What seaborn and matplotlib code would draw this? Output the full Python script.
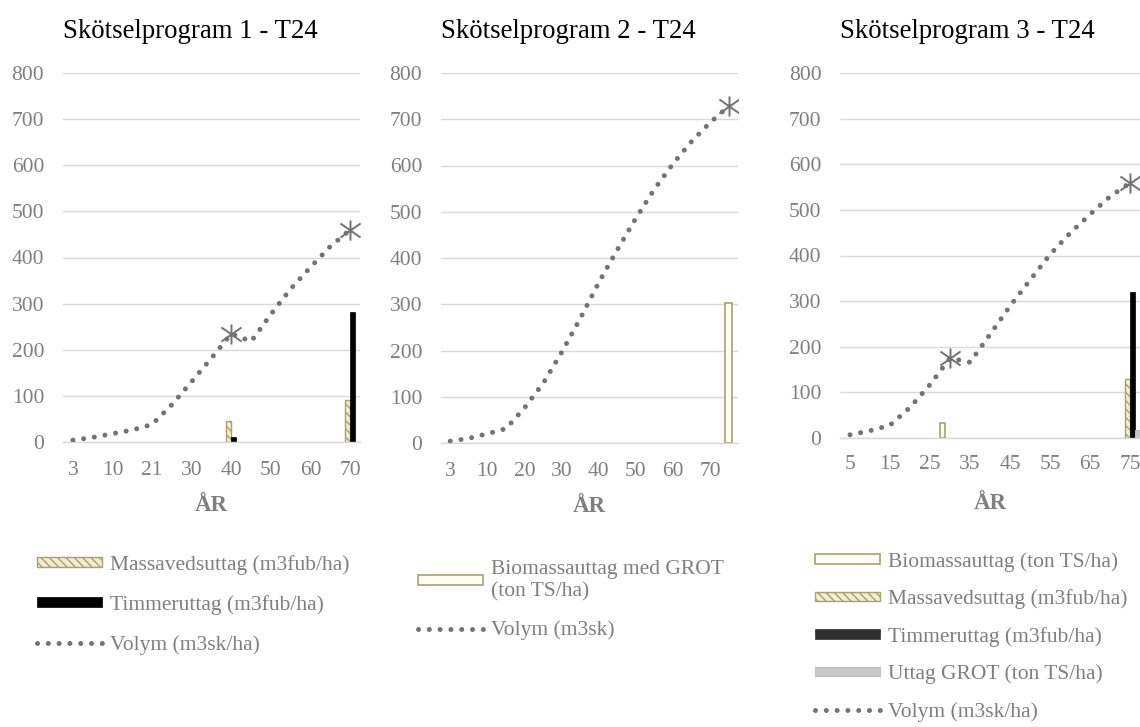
import numpy as np
import pandas as pd
import matplotlib
matplotlib.use("Agg")
import matplotlib.pyplot as plt
import seaborn as sns
from matplotlib.patches import Patch
from matplotlib.lines import Line2D
from matplotlib.path import Path

# ---------------- data ----------------
titles = ["Skötselprogram 1 - T24", "Skötselprogram 2 - T24", "Skötselprogram 3 - T24"]

years1 = [3, 5, 10, 15, 21, 25, 30, 35, 40, 45, 50, 55, 60, 65, 70]
vol1 = [4, 10, 18, 26, 38, 81, 131, 182, 235, 218, 277, 332, 379, 424, 460]
star1_idx = [8, 14]
star1_val = [235, 460]
massa1 = [0, 0, 0, 0, 0, 0, 0, 0, 45, 0, 0, 0, 0, 0, 90]
timmer1 = [0, 0, 0, 0, 0, 0, 0, 0, 10, 0, 0, 0, 0, 0, 282]

years2 = [3, 5, 10, 15, 20, 25, 30, 35, 40, 45, 50, 55, 60, 65, 70, 75]
vol2 = [4, 10, 20, 31, 76, 129, 196, 269, 347, 418, 486, 549, 604, 652, 693, 728]
star2_idx = [15]
star2_val = [728]
biogrot2 = [0, 0, 0, 0, 0, 0, 0, 0, 0, 0, 0, 0, 0, 0, 0, 302]

years3 = [5, 10, 15, 20, 25, 30, 35, 40, 45, 50, 55, 60, 65, 70, 75]
vol3 = [7, 16, 28, 67, 117, 175, 166, 227, 289, 346, 402, 449, 490, 529, 559]
star3_idx = [5, 14]
star3_val = [175, 559]
bio3 = [0, 0, 0, 0, 0, 32, 0, 0, 0, 0, 0, 0, 0, 0, 0]
massa3 = [0, 0, 0, 0, 0, 0, 0, 0, 0, 0, 0, 0, 0, 0, 130]
timmer3 = [0, 0, 0, 0, 0, 0, 0, 0, 0, 0, 0, 0, 0, 0, 320]
grot3 = [0, 0, 0, 0, 0, 0, 0, 0, 0, 0, 0, 0, 0, 0, 18]

yticks = [0, 100, 200, 300, 400, 500, 600, 700, 800]

# ---------------- styles ----------------
sns.set_style("white")
plt.rcParams["font.family"] = ["Liberation Serif", "DejaVu Serif"]
plt.rcParams["hatch.linewidth"] = 1.0

GRAY_TXT = "#7f7f7f"
LINE_C = "#737373"
GRID_C = "#d9d9d9"
OLIVE = "#a8a16c"
STYLES = {
    "massa": dict(facecolor="#f3eecf", edgecolor=OLIVE, hatch="\\\\\\\\", lw=1.0),
    "timmer": dict(facecolor="#000000", edgecolor="#000000", hatch=None, lw=0.5),
    "timmer3": dict(facecolor="#000000", edgecolor="#000000", hatch=None, lw=0.5),
    "bio": dict(facecolor="#fdfcf2", edgecolor=OLIVE, hatch=None, lw=1.2),
    "grot": dict(facecolor="#c8c8c8", edgecolor="#bdbdbd", hatch=None, lw=0.8),
}
LEG_COL = {"timmer3": "#303030"}

star_marker = Path([(0, -1), (0, 1), (-1, -0.7), (1, 0.7), (-1, 0.7), (1, -0.7)],
                   [Path.MOVETO, Path.LINETO, Path.MOVETO, Path.LINETO, Path.MOVETO, Path.LINETO])

TICK_FS = 15.5
LEG_FS = 15.5
DOT_LW = 3.6
DOT_LS = (0, (0.01, 2.15))

W, H = 1140, 727
fig = plt.figure(figsize=(W / 100, H / 100), dpi=100)


def px_axes(left, right, y0, y800):
    return fig.add_axes([left / W, (H - y0) / H, (right - left) / W, (y0 - y800) / H])


def panel(ax, title, years, vol, star_idx, star_val, series, width, xpad=13.5, lpad=11):
    n = len(years)
    cats = [str(y) for y in years]
    rows = []
    for key, vals in series:
        for c, v in zip(cats, vals):
            rows.append({"year": c, "value": v, "series": key})
    df = pd.DataFrame(rows)
    keys = [k for k, _ in series]
    pal = {k: STYLES[k]["facecolor"] for k in keys}
    sns.barplot(data=df, x="year", y="value", hue="series", order=cats, hue_order=keys,
                palette=pal, width=width, errorbar=None, legend=False, ax=ax, saturation=1)
    for key, cont in zip(keys, ax.containers):
        st = STYLES[key]
        for p in cont.patches:
            if p.get_height() <= 0:
                p.set_visible(False)
                continue
            p.set_facecolor(st["facecolor"])
            p.set_edgecolor(st["edgecolor"])
            p.set_linewidth(st["lw"])
            if st["hatch"]:
                p.set_hatch(st["hatch"])
    sns.lineplot(x=np.arange(n), y=vol, ax=ax, color=LINE_C, linewidth=DOT_LW,
                 linestyle=DOT_LS, dash_capstyle="round", legend=False, zorder=3)
    ax.plot(star_idx, star_val, linestyle="none", marker=star_marker, markersize=14.5,
            markeredgewidth=1.4, markeredgecolor=LINE_C, markerfacecolor="none", zorder=4)
    ax.set_xlim(-0.5, n - 0.5)
    ax.set_ylim(0, 800)
    ax.set_yticks(yticks)
    ax.set_yticklabels([str(t) for t in yticks])
    ax.set_xticks(np.arange(0, n, 2))
    ax.set_xticklabels([str(years[i]) for i in range(0, n, 2)])
    ax.tick_params(axis="both", length=0, labelsize=TICK_FS, labelcolor=GRAY_TXT)
    ax.tick_params(axis="x", pad=xpad)
    ax.tick_params(axis="y", pad=13.5)
    ax.yaxis.grid(True, color=GRID_C, linewidth=1.0)
    ax.xaxis.grid(False)
    ax.set_axisbelow(True)
    for s in ["top", "right", "left"]:
        ax.spines[s].set_visible(False)
    ax.spines["bottom"].set_color(GRID_C)
    ax.spines["bottom"].set_linewidth(1.0)
    ax.set_ylabel("")
    ax.set_xlabel("ÅR", fontsize=16.5, fontweight="bold", color=GRAY_TXT, labelpad=lpad)
    ax.set_title(title, loc="left", fontsize=19.3, color="black", pad=25)


def legend(entries, x, y, spacing):
    handles, labels = [], []
    for key, lab in entries:
        if key == "vol":
            handles.append(Line2D([0], [0], color=LINE_C, linewidth=DOT_LW,
                                  linestyle=DOT_LS, dash_capstyle="round"))
        else:
            st = STYLES[key]
            handles.append(Patch(facecolor=LEG_COL.get(key, st["facecolor"]),
                                 edgecolor=LEG_COL.get(key, st["edgecolor"]),
                                 hatch=st["hatch"], linewidth=st["lw"]))
        labels.append(lab)
    leg = fig.legend(handles, labels, loc="upper left", bbox_to_anchor=(x / W, (H - y) / H),
                     frameon=False, fontsize=LEG_FS, handlelength=3.0, handleheight=0.32,
                     handletextpad=0.4, labelspacing=spacing, borderpad=0, borderaxespad=0)
    for t in leg.get_texts():
        t.set_color(GRAY_TXT)
        t.set_linespacing(1.25)


ax1 = px_axes(63, 360, 442, 73)
panel(ax1, titles[0], years1, vol1, star1_idx, star1_val,
      [("massa", massa1), ("timmer", timmer1)], 0.5)
ax2 = px_axes(441, 738, 443, 73)
panel(ax2, titles[1], years2, vol2, star2_idx, star2_val,
      [("bio", biogrot2)], 0.38)
ax3 = px_axes(840, 1140, 438, 73)
panel(ax3, titles[2], years3, vol3, star3_idx, star3_val,
      [("bio", bio3), ("massa", massa3), ("timmer3", timmer3), ("grot", grot3)], 1.0,
      xpad=12, lpad=14)

legend([("massa", "Massavedsuttag (m3fub/ha)"), ("timmer", "Timmeruttag (m3fub/ha)"),
        ("vol", "Volym (m3sk/ha)")], 37, 555, 0.93)
legend([("bio", "Biomassauttag med GROT\n(ton TS/ha)"), ("vol", "Volym (m3sk)")], 418, 560, 0.85)
legend([("bio", "Biomassauttag (ton TS/ha)"), ("massa", "Massavedsuttag (m3fub/ha)"),
        ("timmer3", "Timmeruttag (m3fub/ha)"), ("grot", "Uttag GROT (ton TS/ha)"),
        ("vol", "Volym (m3sk/ha)")], 815, 552, 0.82)

fig.savefig("out.png", dpi=100)
